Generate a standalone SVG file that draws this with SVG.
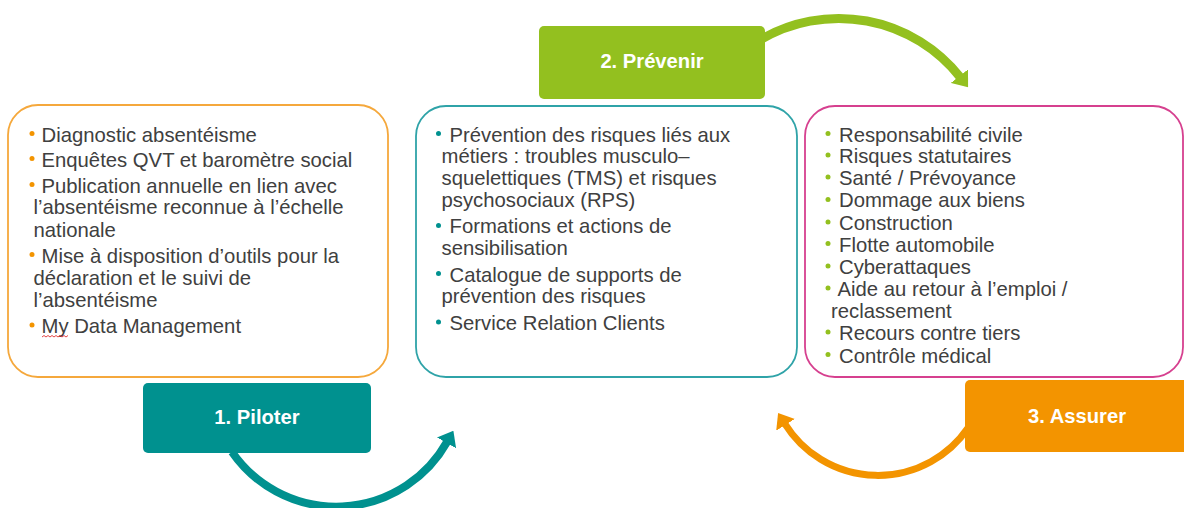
<svg xmlns="http://www.w3.org/2000/svg" width="1184" height="508" viewBox="0 0 1184 508">
<style>
.t{font-family:"Liberation Sans",Arial,sans-serif;font-size:20.3px;fill:#404040}
.h{font-family:"Liberation Sans",Arial,sans-serif;font-size:20.2px;font-weight:bold;fill:#ffffff;text-anchor:middle}
.box{fill:#ffffff;stroke-width:1.8}
</style>
<defs>
<marker id="mT" viewBox="0 0 14 22" markerWidth="14" markerHeight="22" refX="1" refY="11" orient="auto" markerUnits="userSpaceOnUse"><path d="M0,0 L14,11 L0,22 z" fill="#00918F"/></marker>
<marker id="mG" viewBox="0 0 14 22" markerWidth="14" markerHeight="22" refX="1" refY="11" orient="auto" markerUnits="userSpaceOnUse"><path d="M0,0 L14,11 L0,22 z" fill="#93C01F"/></marker>
<marker id="mO" viewBox="0 0 14 22" markerWidth="14" markerHeight="22" refX="1" refY="11" orient="auto" markerUnits="userSpaceOnUse"><path d="M0,0 L14,11 L0,22 z" fill="#F39400"/></marker>
</defs>
<g id="connectors" fill="none">
<path d="M232 452 A127 127 0 0 0 447 442" stroke="#00918F" stroke-width="8" marker-end="url(#mT)"/>
<path d="M760 40 A154.7 154.7 0 0 1 960 77" stroke="#93C01F" stroke-width="9" marker-end="url(#mG)"/>
<path d="M968 428 A109.5 109.5 0 0 1 785 424" stroke="#F39400" stroke-width="7" marker-end="url(#mO)"/>
</g>
<g id="box-piloter">
<rect class="box" x="8" y="105" width="380" height="272" rx="30" stroke="#F5A83C"/>
<g fill="#F39400"><circle cx="32" cy="133.5" r="2.5"/><circle cx="32" cy="158.5" r="2.5"/><circle cx="32" cy="184.5" r="2.5"/><circle cx="32" cy="254.5" r="2.5"/><circle cx="32" cy="325" r="2.5"/></g>
<text class="t"><tspan x="41.5" y="141.7">Diagnostic absentéisme</tspan><tspan x="41.5" y="166.7">Enquêtes QVT et baromètre social</tspan><tspan x="41.5" y="192.7">Publication annuelle en lien avec</tspan><tspan x="33.5" y="214.3">l’absentéisme reconnue à l’échelle</tspan><tspan x="33.5" y="236.7">nationale</tspan><tspan x="41.5" y="262.7">Mise à disposition d’outils pour la</tspan><tspan x="33.5" y="285">déclaration et le suivi de</tspan><tspan x="33.5" y="306.7">l’absentéisme</tspan><tspan x="41.5" y="333.3">My Data Management</tspan></text>
<path d="M42 337 l2 -1.5 l2 1.5 l2 -1.5 l2 1.5 l2 -1.5 l2 1.5 l2 -1.5 l2 1.5 l2 -1.5 l2 1.5 l2 -1.5 l2 1.5 l2 -1.5" fill="none" stroke="#E03030" stroke-width="0.9"/>
</g>
<g id="box-prevenir">
<rect class="box" x="416" y="106" width="381" height="271" rx="30" stroke="#2FA3A8"/>
<g fill="#00918F"><circle cx="438.5" cy="133.5" r="2.5"/><circle cx="438.5" cy="225.5" r="2.5"/><circle cx="438.5" cy="273.5" r="2.5"/><circle cx="438.5" cy="322" r="2.5"/></g>
<text class="t"><tspan x="449.5" y="141.7">Prévention des risques liés aux</tspan><tspan x="441.5" y="163.3">métiers : troubles musculo–</tspan><tspan x="441.5" y="185">squelettiques (TMS) et risques</tspan><tspan x="441.5" y="206.7">psychosociaux (RPS)</tspan><tspan x="449.5" y="233.3">Formations et actions de</tspan><tspan x="441.5" y="255">sensibilisation</tspan><tspan x="449.5" y="281.7">Catalogue de supports de</tspan><tspan x="441.5" y="303.3">prévention des risques</tspan><tspan x="449.5" y="330">Service Relation Clients</tspan></text>
</g>
<g id="box-assurer">
<rect class="box" x="805" y="106" width="378" height="271" rx="30" stroke="#D6408F"/>
<g fill="#93C01F"><circle cx="828" cy="133.5" r="2.5"/><circle cx="828" cy="155" r="2.5"/><circle cx="828" cy="177" r="2.5"/><circle cx="828" cy="199.5" r="2.5"/><circle cx="828" cy="222" r="2.5"/><circle cx="828" cy="243.5" r="2.5"/><circle cx="828" cy="266" r="2.5"/><circle cx="828" cy="288" r="2.5"/><circle cx="828" cy="332" r="2.5"/><circle cx="828" cy="354.5" r="2.5"/></g>
<text class="t"><tspan x="839" y="141.7">Responsabilité civile</tspan><tspan x="839" y="163.3">Risques statutaires</tspan><tspan x="839" y="185">Santé / Prévoyance</tspan><tspan x="839" y="207.3">Dommage aux biens</tspan><tspan x="839" y="230">Construction</tspan><tspan x="839" y="251.7">Flotte automobile</tspan><tspan x="839" y="274">Cyberattaques</tspan><tspan x="837.5" y="296">Aide au retour à l’emploi /</tspan><tspan x="831" y="318.3">reclassement</tspan><tspan x="839" y="340">Recours contre tiers</tspan><tspan x="839" y="362.7">Contrôle médical</tspan></text>
</g>
<g id="label-piloter">
<rect x="143" y="383" width="228" height="70" rx="5" fill="#00918F"/>
<text class="h" x="257" y="424.3">1. Piloter</text>
</g>
<g id="label-prevenir">
<rect x="539" y="26" width="226" height="73" rx="5" fill="#93C01F"/>
<text class="h" x="652" y="68.3">2. Prévenir</text>
</g>
<g id="label-assurer">
<rect x="965" y="380" width="230" height="72" rx="5" fill="#F39400"/>
<text class="h" x="1077" y="422.7">3. Assurer</text>
</g>
</svg>
